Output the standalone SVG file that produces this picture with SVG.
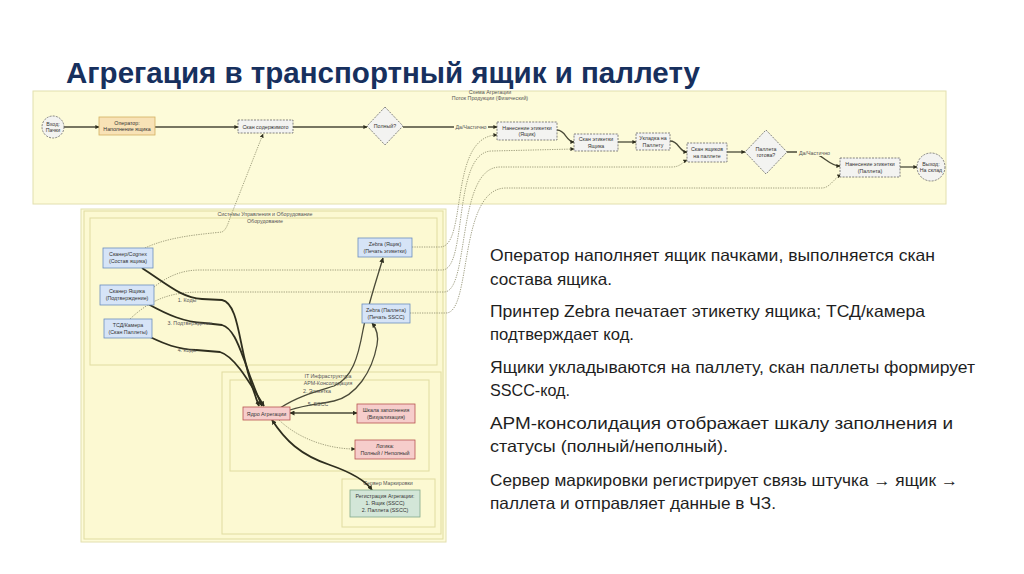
<svg xmlns="http://www.w3.org/2000/svg" width="1024" height="574" viewBox="0 0 1024 574">
<defs>
<style>
.title{font-family:"Liberation Sans",Arial,sans-serif;font-weight:bold;font-size:30px;fill:#17305e}
.body{font-family:"Liberation Sans",Arial,sans-serif;font-size:16.5px;fill:#1e1e1e}
.t{font-family:"Liberation Sans",Arial,sans-serif;font-size:5.3px;fill:#333;text-anchor:middle}
.lbl{font-family:"Liberation Sans",Arial,sans-serif;font-size:5.3px;fill:#555;text-anchor:middle}
.panel{fill:#fdfbd9;stroke:#e2dfae;stroke-width:1}
.inner{fill:#fcf9d2;stroke:#e0dca0;stroke-width:1}
.flow{fill:#f3f3f1;stroke:#666;stroke-width:0.8;stroke-dasharray:2 1.2}
.op{fill:#f8e2b6;stroke:#d3b060;stroke-width:0.8}
.blue{fill:#d6e4f7;stroke:#6c8ebf;stroke-width:0.8}
.pink{fill:#f6cdcb;stroke:#b85450;stroke-width:0.8}
.green{fill:#d3e6d8;stroke:#82a98a;stroke-width:0.8}
.solid{fill:none;stroke:#4a4a38;stroke-width:1.3}
.thick{fill:none;stroke:#2e2e1e;stroke-width:1.8}
.dot{fill:none;stroke:#8c8a6a;stroke-width:0.8;stroke-dasharray:1.3 1.1}
</style>
<marker id="ah" viewBox="0 0 10 10" refX="9" refY="5" markerWidth="4" markerHeight="4" orient="auto-start-reverse" markerUnits="userSpaceOnUse">
<path d="M0,0 L10,5 L0,10 z" fill="#2e2e1e"/>
</marker>
<marker id="ahs" viewBox="0 0 10 10" refX="9" refY="5" markerWidth="5" markerHeight="5" orient="auto-start-reverse" markerUnits="userSpaceOnUse">
<path d="M0,0 L10,5 L0,10 z" fill="#2e2e1e"/>
</marker>
</defs>
<rect width="1024" height="574" fill="#ffffff"/>

<text class="title" x="66" y="83" textLength="634" lengthAdjust="spacingAndGlyphs">Агрегация в транспортный ящик и паллету</text>

<!-- panels -->
<g id="panel-top">
<rect class="panel" x="33" y="91" width="913" height="113"/>
<text class="lbl" x="490" y="94" font-size="4.5">Схема Агрегации</text>
<text class="lbl" x="490" y="100">Поток Продукции (Физический)</text>
</g>
<g id="panel-bottom">
<rect class="panel" x="81" y="209" width="365" height="333"/>
<rect class="inner" x="84" y="211" width="359" height="328"/>
<text class="lbl" x="265" y="215.5">Системы Управления и Оборудование</text>
<rect class="inner" x="90" y="218" width="347" height="147"/>
<text class="lbl" x="265" y="223">Оборудование</text>
<rect class="inner" x="222" y="372" width="219" height="162"/>
<rect class="inner" x="230" y="380" width="199" height="91"/>
<text class="lbl" x="328" y="378">IT Инфраструктура</text>
<text class="lbl" x="328" y="385">АРМ-Консолидация</text>
<rect class="inner" x="342" y="479" width="93" height="48"/>
<text class="lbl" x="388" y="485">Сервер Маркировки</text>
</g>

<!-- connectors -->
<g id="connectors">
<path class="solid" d="M64,127 H99" marker-end="url(#ah)"/>
<path class="solid" d="M155,127 H238" marker-end="url(#ah)"/>
<path class="solid" d="M293,127 H367" marker-end="url(#ah)"/>
<path class="solid" d="M403,127 H497" marker-end="url(#ah)"/>
<rect x="454" y="124" width="34" height="6" fill="#fdfbd9"/>
<text class="lbl" x="471" y="129">Да/Частично</text>
<path class="solid" d="M557,130 C566,130 566,142 574,142" marker-end="url(#ah)"/>
<path class="solid" d="M618,142 H636" marker-end="url(#ah)"/>
<path class="solid" d="M670,141 C679,141 679,152 687,152" marker-end="url(#ah)"/>
<path class="solid" d="M727,152 H745" marker-end="url(#ah)"/>
<path class="solid" d="M787,152 H808 C822,152 828,166 840,166" marker-end="url(#ah)"/>
<rect x="797" y="150" width="35" height="6" fill="#fdfbd9"/>
<text class="lbl" x="814.5" y="155">Да/Частично</text>
<path class="solid" d="M900,167 H917" marker-end="url(#ah)"/>

<!-- dotted links from equipment to flow -->
<path class="dot" d="M145,248 C170,236 205,234 222,232 C226,230 228,224 230,218 L263,134" marker-end="url(#ah)"/>
<path class="dot" d="M412,247 H440 C468,247 448,136 497,135" marker-end="url(#ah)"/>
<path class="dot" d="M154,287 C168,276 182,270 200,270 H442 C468,270 452,151 492,151 L574,149" marker-end="url(#ah)"/>
<path class="dot" d="M130,319 C150,300 170,292 200,292 H444 C470,292 456,167 500,167 H672 C680,167 683,162 687,160" marker-end="url(#ah)"/>
<path class="dot" d="M410,313 H446 C472,313 458,188 506,188 H822 C830,188 834,178 841,175" marker-end="url(#ah)"/>

<!-- control links -->
<path class="thick" d="M142,268 C168,285 182,298 202,299 L222,300 C233,302 237,322 241,342 C246,368 252,388 259,406" marker-end="url(#ahs)"/>
<path class="thick" d="M148,304 C168,315 184,322 204,323 L222,325 C233,328 239,346 245,362 C251,380 256,392 262,406" marker-end="url(#ahs)"/>
<path class="thick" d="M150,337 C165,344 176,349 196,350 L220,352 C234,356 248,380 264,406" marker-end="url(#ahs)"/>
<text class="lbl" x="187" y="302">1. Коды</text>
<text class="lbl" x="190" y="325">3. Подтверждение</text>
<text class="lbl" x="187" y="352">4. Коды</text>
<path class="solid" d="M280,408 C298,396 318,391 334,386 C352,378 358,358 363,330 C368,305 375,285 383,258" marker-end="url(#ahs)"/>
<path class="solid" d="M290,410 C305,405 320,404 334,401 C356,396 372,372 377,345 C379,335 376,328 372,323" marker-end="url(#ahs)"/>
<text class="lbl" x="317" y="393">2. Этикетка</text>
<text class="lbl" x="318" y="406">5. SSCC</text>
<path class="solid" d="M290,413 H357" marker-start="url(#ahs)" marker-end="url(#ahs)"/>
<path class="dot" d="M279,420 C300,440 330,449 355,449" marker-end="url(#ah)"/>
<path class="thick" d="M272,420 C285,440 300,455 330,465 C350,472 365,480 372,490" marker-start="url(#ahs)" marker-end="url(#ahs)"/>
</g>

<!-- flow nodes -->
<g id="n-vhod"><circle class="flow" cx="53" cy="127" r="11"/><text class="t" x="53" y="125.5">Вход:</text><text class="t" x="53" y="132">Пачки</text></g>
<g id="n-operator"><rect class="op" x="99" y="117" width="56" height="18"/><text class="t" x="127" y="124.5">Оператор:</text><text class="t" x="127" y="131">Наполнение ящика</text></g>
<g id="n-skan-sod"><rect class="flow" x="238" y="120" width="55" height="13"/><text class="t" x="265.5" y="128.5">Скан содержимого</text></g>
<g id="n-polny"><path class="flow" d="M385,107 L403,126 L385,145 L367,126 Z"/><text class="t" x="385" y="128">Полный?</text></g>
<g id="n-nanes-yash"><rect class="flow" x="497" y="122" width="60" height="18"/><text class="t" x="527" y="129.5">Нанесение этикетки</text><text class="t" x="527" y="136">(Ящик)</text></g>
<g id="n-skan-et"><rect class="flow" x="574" y="134" width="44" height="17"/><text class="t" x="596" y="141">Скан этикетки</text><text class="t" x="596" y="147.5">Ящика</text></g>
<g id="n-ukladka"><rect class="flow" x="636" y="133" width="34" height="17"/><text class="t" x="653" y="140">Укладка на</text><text class="t" x="653" y="146.5">Паллету</text></g>
<g id="n-skan-yash"><rect class="flow" x="687" y="143" width="40" height="19"/><text class="t" x="707" y="151">Скан ящиков</text><text class="t" x="707" y="157.5">на паллете</text></g>
<g id="n-gotova"><path class="flow" d="M766,130 L787,152 L766,174 L745,152 Z"/><text class="t" x="766" y="150.5">Паллета</text><text class="t" x="766" y="157">готова?</text></g>
<g id="n-nanes-pal"><rect class="flow" x="840" y="158" width="60" height="19"/><text class="t" x="870" y="166">Нанесение этикетки</text><text class="t" x="870" y="172.5">(Паллета)</text></g>
<g id="n-vyhod"><circle class="flow" cx="931" cy="167" r="14"/><text class="t" x="931" y="165.5">Выход:</text><text class="t" x="931" y="172">На склад</text></g>

<!-- equipment nodes -->
<g id="n-cognex"><rect class="blue" x="103" y="248" width="50" height="20"/><text class="t" x="128" y="256">Сканер/Cognex</text><text class="t" x="128" y="263">(Состав ящика)</text></g>
<g id="n-skaner-yash"><rect class="blue" x="100" y="285" width="54" height="20"/><text class="t" x="127" y="293">Сканер Ящика</text><text class="t" x="127" y="300">(Подтверждение)</text></g>
<g id="n-tsd"><rect class="blue" x="104" y="319" width="48" height="19"/><text class="t" x="128" y="327">ТСД/Камера</text><text class="t" x="128" y="334">(Скан Паллеты)</text></g>
<g id="n-zebra-yash"><rect class="blue" x="358" y="238" width="54" height="19"/><text class="t" x="385" y="246">Zebra (Ящик)</text><text class="t" x="385" y="253">(Печать этикетки)</text></g>
<g id="n-zebra-pal"><rect class="blue" x="362" y="304" width="48" height="19"/><text class="t" x="386" y="312">Zebra (Паллета)</text><text class="t" x="386" y="319">(Печать SSCC)</text></g>
<g id="n-yadro"><rect class="pink" x="243" y="407" width="47" height="13"/><text class="t" x="266.5" y="415.5">Ядро Агрегации</text></g>
<g id="n-shkala"><rect class="pink" x="357" y="404" width="58" height="19"/><text class="t" x="386" y="412">Шкала заполнения</text><text class="t" x="386" y="419">(Визуализация)</text></g>
<g id="n-logika"><rect class="pink" x="355" y="440" width="60" height="19"/><text class="t" x="385" y="448">Логика:</text><text class="t" x="385" y="455">Полный / Неполный</text></g>
<g id="n-registr"><rect class="green" x="350" y="490" width="70" height="27"/><text class="t" x="385" y="498">Регистрация Агрегации:</text><text class="t" x="385" y="505">1. Ящик (SSCC)</text><text class="t" x="385" y="512">2. Паллета (SSCC)</text></g>

<!-- body text -->
<g id="description">
<text class="body" x="490" y="261" textLength="445" lengthAdjust="spacingAndGlyphs">Оператор наполняет ящик пачками, выполняется скан</text>
<text class="body" x="490" y="285" textLength="122" lengthAdjust="spacingAndGlyphs">состава ящика.</text>
<text class="body" x="490" y="317" textLength="435" lengthAdjust="spacingAndGlyphs">Принтер Zebra печатает этикетку ящика; ТСД/камера</text>
<text class="body" x="490" y="340" textLength="144" lengthAdjust="spacingAndGlyphs">подтверждает код.</text>
<text class="body" x="490" y="373" textLength="485" lengthAdjust="spacingAndGlyphs">Ящики укладываются на паллету, скан паллеты формирует</text>
<text class="body" x="490" y="396" textLength="80" lengthAdjust="spacingAndGlyphs">SSCC-код.</text>
<text class="body" x="490" y="429" textLength="463" lengthAdjust="spacingAndGlyphs">АРМ-консолидация отображает шкалу заполнения и</text>
<text class="body" x="490" y="452" textLength="238" lengthAdjust="spacingAndGlyphs">статусы (полный/неполный).</text>
<text class="body" x="490" y="486" textLength="468" lengthAdjust="spacingAndGlyphs">Сервер маркировки регистрирует связь штучка → ящик →</text>
<text class="body" x="490" y="509" textLength="286" lengthAdjust="spacingAndGlyphs">паллета и отправляет данные в ЧЗ.</text>
</g>
</svg>
